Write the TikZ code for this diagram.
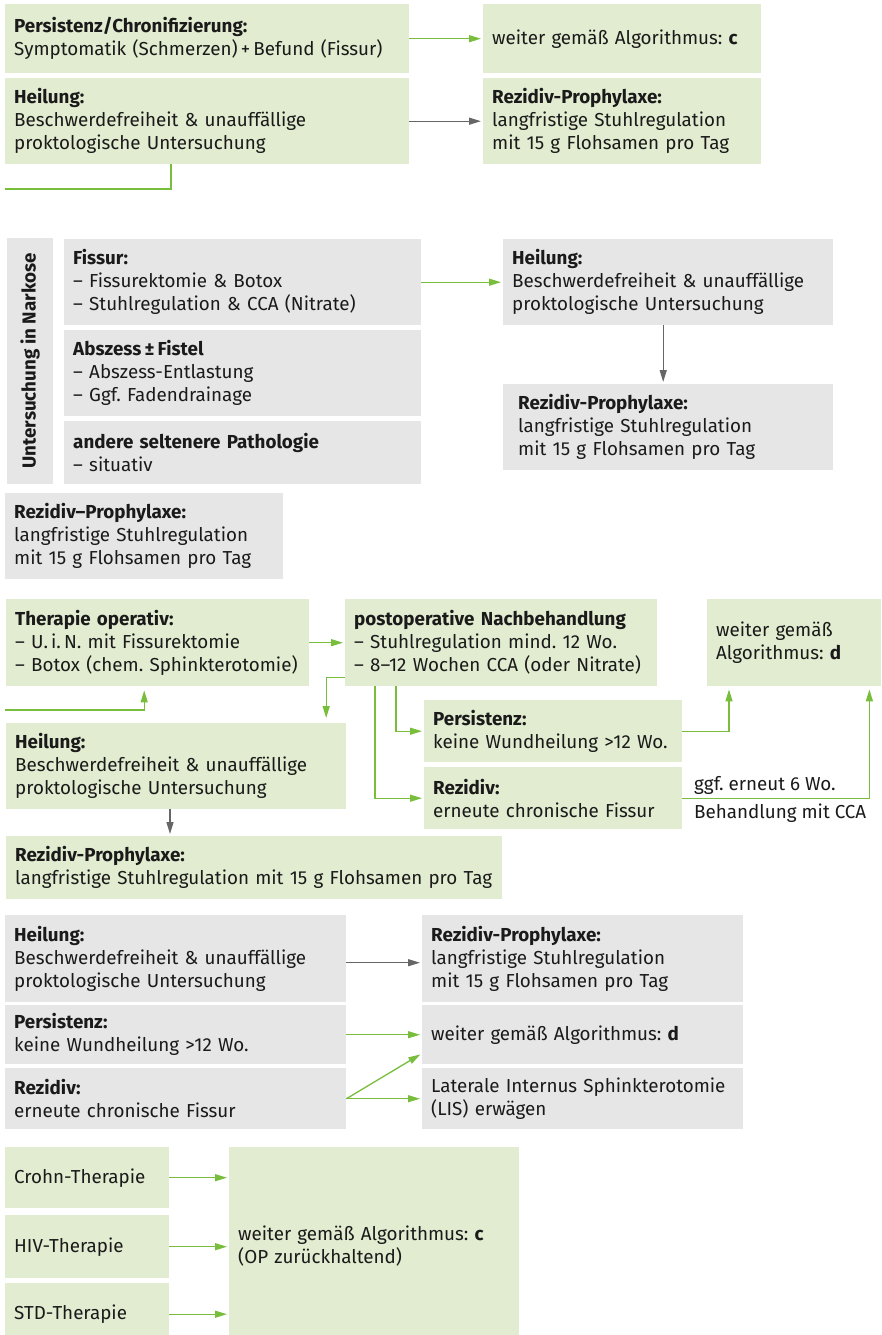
\documentclass[tikz,border=0pt]{standalone}
\usepackage{fontspec}
\setmainfont{Fira Sans}
\usetikzlibrary{arrows.meta,calc}
\definecolor{gfill}{HTML}{E2ECD0}
\definecolor{hfill}{HTML}{E6E6E6}
\definecolor{gline}{HTML}{78BE3C}
\definecolor{hline}{HTML}{666666}
\definecolor{txt}{HTML}{1A1A1A}
\newcommand\myfs{\fontsize{18.8pt}{23pt}\selectfont\frenchspacing}
\begin{document}
\begin{tikzpicture}[x=1pt,y=-1pt,
  box/.style={anchor=north west, inner xsep=9pt, inner ysep=2pt, align=left, text=txt, font=\myfs},
  gb/.style={box, fill=gfill},
  hb/.style={box, fill=hfill},
  sz/.style n args={3}{minimum width=#1pt, text width=#2pt, minimum height=#3pt},
  ga/.style={draw=gline, line width=1.3pt, -{Triangle[length=12pt,width=7pt]}, shorten >=2pt},
  ha/.style={draw=hline, line width=1.3pt, -{Triangle[length=12pt,width=7pt]}, shorten >=2pt},
  gl/.style={draw=gline, line width=1.3pt},
  lab/.style={anchor=west, text=txt, font=\myfs, inner sep=0pt}]
\useasboundingbox (0,0) rectangle (881,1335);
\clip (0,0) rectangle (881,1335);

% ---------- section 1
\node[gb, sz={404}{386}{69}] (A) at (5,4) {\textbf{Persistenz/Chronifizierung:}\\\mbox{Symptomatik (Schmerzen)\,+\,Befund (Fissur)}};
\node[gb, sz={278}{260}{69}] (B) at (483,4) {weiter gemäß Algorithmus: \textbf{c}};
\node[gb, sz={404}{386}{86}] (C) at (5,78) {\textbf{Heilung:}\\Beschwerdefreiheit \& unauffällige\\proktologische Untersuchung};
\node[gb, sz={278}{260}{86}] (D) at (483,78) {\textbf{Rezidiv-Prophylaxe:}\\langfristige Stuhlregulation\\mit 15 g Flohsamen pro Tag};
\coordinate (c1) at (5,189);
\draw[ga] (A.east) -- (B.west);
\draw[ha] (C.east) -- (D.west);
\draw[gl] ([xshift=166pt]C.south west) |- (c1);

% ---------- section 2
\node[fill=hfill, rotate=90, minimum width=246pt, minimum height=46pt, inner sep=0pt, text=txt, font=\myfs\bfseries] (L) at (30,361) {Untersuchung in Narkose};
\node[hb, sz={357}{339}{86}] (F) at (64,239) {\textbf{Fissur:}\\– Fissurektomie \& Botox\\– Stuhlregulation \& CCA (Nitrate)};
\node[hb, sz={357}{339}{86}] (Ab) at (64,330) {\textbf{Abszess\,±\,Fistel}\\– Abszess-Entlastung\\– Ggf. Fadendrainage};
\node[hb, sz={357}{339}{63}] (An) at (64,421) {\textbf{andere seltenere Pathologie}\\– situativ};
\node[hb, sz={330}{312}{86}] (H2) at (503,239) {\textbf{Heilung:}\\\mbox{Beschwerdefreiheit \& unauffällige}\\proktologische Untersuchung};
\node[hb, inner xsep=15pt, sz={330}{300}{86}] (R2) at (503,384) {\textbf{Rezidiv-Prophylaxe:}\\langfristige Stuhlregulation\\mit 15 g Flohsamen pro Tag};
\node[hb, sz={278}{260}{86}] (RP2) at (5,493) {\textbf{Rezidiv–Prophylaxe:}\\\mbox{langfristige Stuhlregulation}\\mit 15 g Flohsamen pro Tag};
\draw[ga] (F.east) -- (H2.west);
\draw[ha] ([xshift=-5pt]H2.south) -- ([xshift=-5pt]H2.south |- R2.north);

% ---------- section 3
\node[gb, sz={303}{285}{87}] (T) at (6,599) {\textbf{Therapie operativ:}\\– U.\,i.\,N. mit Fissurektomie\\\mbox{– Botox (chem. Sphinkterotomie)}};
\node[gb, sz={312}{294}{87}] (P) at (345,599) {\textbf{postoperative Nachbehandlung}\\– Stuhlregulation mind. 12 Wo.\\\mbox{– 8–12 Wochen CCA (oder Nitrate)}};
\node[gb, sz={174}{156}{87}] (Wd) at (707,599) {weiter gemäß\\Algorithmus: \textbf{d}};
\node[gb, sz={340}{322}{86}] (H3) at (6,723) {\textbf{Heilung:}\\\mbox{Beschwerdefreiheit \& unauffällige}\\proktologische Untersuchung};
\node[gb, sz={258}{240}{62}] (Pe3) at (424,700) {\textbf{Persistenz:}\\\mbox{keine Wundheilung >12 Wo.}};
\node[gb, sz={258}{240}{62}] (Re3) at (424,767) {\textbf{Rezidiv:}\\\mbox{erneute chronische Fissur}};
\node[gb, sz={496}{478}{63}] (RP3) at (6,836) {\textbf{Rezidiv-Prophylaxe:}\\\mbox{langfristige Stuhlregulation mit 15 g Flohsamen pro Tag}};
\coordinate (t0) at (5,710);
\draw[ga, shorten >=4pt] (t0) -| ([xshift=-13.5pt]T.south);
\draw[ga] (T.east) -- (P.west);
\draw[ga, shorten >=5pt] ([yshift=-34.5pt]P.west) -| ([xshift=150pt]H3.north);
\draw[ga] ([xshift=51pt]P.south west) |- (Pe3.west);
\draw[ga] ([xshift=30pt]P.south west) |- (Re3.west);
\draw[ga, shorten >=3pt] (Pe3.east) -| ([xshift=22pt]Wd.south west);
\draw[ga, shorten >=3pt] (Re3.east) -| ([xshift=-12pt]Wd.south east);
\node[lab] (l1) at (694,785) {ggf. erneut 6 Wo.};
\node[lab] (l2) at (694,813) {Behandlung mit CCA};
\draw[ha] ([xshift=164pt]H3.south west) -- ([xshift=164pt]H3.south west |- RP3.north);

% ---------- section 4
\node[hb, sz={341}{323}{87}] (H4) at (5,915) {\textbf{Heilung:}\\\mbox{Beschwerdefreiheit \& unauffällige}\\proktologische Untersuchung};
\node[hb, sz={321}{303}{87}] (RP4) at (422,915) {\textbf{Rezidiv-Prophylaxe:}\\langfristige Stuhlregulation\\mit 15 g Flohsamen pro Tag};
\node[hb, sz={341}{323}{59}] (Pe4) at (5,1005) {\textbf{Persistenz:}\\keine Wundheilung >12 Wo.};
\node[hb, sz={321}{303}{59}] (W4) at (422,1005) {weiter gemäß Algorithmus: \textbf{d}};
\node[hb, sz={341}{323}{61}] (Re4) at (5,1068) {\textbf{Rezidiv:}\\erneute chronische Fissur};
\node[hb, sz={321}{303}{61}] (LIS) at (422,1068) {\mbox{Laterale Internus Sphinkterotomie}\\(LIS) erwägen};
\draw[ha] ([yshift=-4pt]H4.east) -- ([yshift=-4pt]H4.east -| RP4.west);
\draw[ga] (Pe4.east) -- (W4.west);
\draw[ga] (Re4.east) -- ([yshift=11pt]W4.south west);
\draw[ga] (Re4.east) -- (LIS.west);

% ---------- section 5
\node[gb, sz={164}{146}{61}] (Cr) at (5,1147) {Crohn-Therapie};
\node[gb, sz={164}{146}{63}] (HIV) at (5,1215) {HIV-Therapie};
\node[gb, sz={164}{146}{62}] (STD) at (5,1283) {STD-Therapie};
\node[gb, sz={290}{272}{198}] (Wc) at (229,1147) {weiter gemäß Algorithmus: \textbf{c}\\(OP zurückhaltend)};
\draw[ga] (Cr.east) -- (Cr.east -| Wc.west);
\draw[ga] (HIV.east) -- (HIV.east -| Wc.west);
\draw[ga] (STD.east) -- (STD.east -| Wc.west);
\end{tikzpicture}
\end{document}
